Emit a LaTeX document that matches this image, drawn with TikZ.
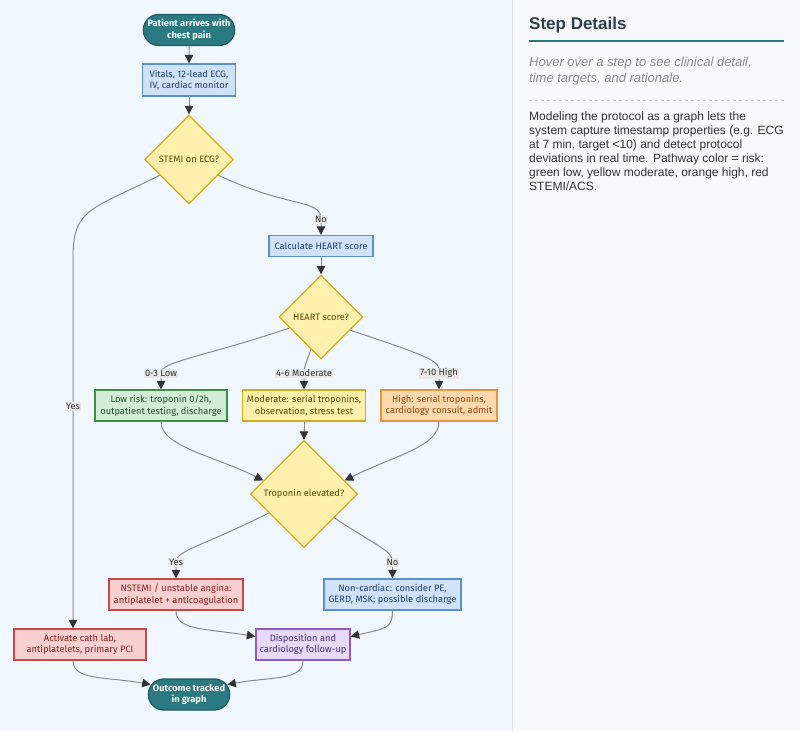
\documentclass[tikz,border=0pt]{standalone}
\usepackage{fontspec}
\setmainfont{Liberation Sans}
\newfontfamily\flowfont{Fira Sans}
\usetikzlibrary{calc,arrows.meta,shapes.geometric,shapes.misc}

\definecolor{canvasbg}{HTML}{F0F7FE}
\definecolor{panelbg}{HTML}{F8F9FA}
\definecolor{panelline}{HTML}{DDE3EA}
\definecolor{tealfill}{HTML}{2B7A82}
\definecolor{tealdraw}{HTML}{1E5C62}
\definecolor{bluefill}{HTML}{D0E2F8}
\definecolor{bluedraw}{HTML}{5B8FCF}
\definecolor{bluetext}{HTML}{1F3D6E}
\definecolor{yelfill}{HTML}{FFF1AD}
\definecolor{yeldraw}{HTML}{D4AC17}
\definecolor{yeltext}{HTML}{5A4A0A}
\definecolor{greenfill}{HTML}{D2EDD6}
\definecolor{greendraw}{HTML}{3F8E46}
\definecolor{greentext}{HTML}{1F4F25}
\definecolor{orangefill}{HTML}{FFD8AE}
\definecolor{orangedraw}{HTML}{E8963C}
\definecolor{orangetext}{HTML}{8A4A12}
\definecolor{redfill}{HTML}{F9D0D0}
\definecolor{reddraw}{HTML}{C8474A}
\definecolor{redtext}{HTML}{8B1E22}
\definecolor{purplefill}{HTML}{E6DAF6}
\definecolor{purpledraw}{HTML}{8A5BC8}
\definecolor{purpletext}{HTML}{4A2A78}
\definecolor{edgegray}{HTML}{8A8A8A}
\definecolor{tipgray}{HTML}{333333}
\definecolor{lblfill}{HTML}{E8E8E8}
\definecolor{titletext}{HTML}{2C3E50}
\definecolor{hinttext}{HTML}{8C8C8C}
\definecolor{bodytext}{HTML}{333333}

\tikzset{
  box/.style={rectangle,line width=1.3pt,inner sep=2pt,align=center,minimum height=31},
  bluebox/.style={box,fill=bluefill,draw=bluedraw,text=bluetext},
  greenbox/.style={box,fill=greenfill,draw=greendraw,text=greentext},
  yelbox/.style={box,fill=yelfill,draw=yeldraw,text=yeltext},
  orangebox/.style={box,fill=orangefill,draw=orangedraw,text=orangetext},
  redbox/.style={box,fill=redfill,draw=reddraw,text=redtext},
  purplebox/.style={box,fill=purplefill,draw=purpledraw,text=purpletext},
  terminal/.style={rounded rectangle,fill=tealfill,draw=tealdraw,line width=1.3pt,
    text=white,font=\flowfont\bfseries\fontsize{9.3}{11.5}\selectfont,align=center,minimum height=31},
  decision/.style={diamond,aspect=1,inner sep=0pt,fill=yelfill,draw=yeldraw,
    line width=1.3pt,text=yeltext,align=center},
  flow/.style={draw=edgegray,line width=1pt,-{Triangle[length=8.5pt,width=8.5pt,color=tipgray]}},
  lbl/.style={fill=lblfill,text=tipgray,inner sep=1pt}
}

\begin{document}
\begin{tikzpicture}[x=1pt,y=-1pt,font=\flowfont\fontsize{9.3}{11.5}\selectfont]

\useasboundingbox (0,0) rectangle (800,731);
\fill[canvasbg] (0,0) rectangle (512,731);
\fill[panelbg] (512,0) rectangle (800,731);
\draw[panelline,line width=1pt] (512,0) -- (512,731);

% flowchart
\node[terminal,minimum width=98] (start) at (189,30) {Patient arrives with\\chest pain};
\node[bluebox,minimum width=93,minimum height=32] (vitals) at (189,80) {Vitals, 12-lead ECG,\\IV, cardiac monitor};
\node[decision,minimum size=89] (stemi) at (189,159.5) {STEMI on ECG?};
\node[bluebox,minimum width=104,minimum height=21] (heartcalc) at (321,246) {Calculate HEART score};
\node[decision,minimum size=84] (heart) at (321,317) {HEART score?};
\node[greenbox,minimum width=132] (low) at (161,405.5) {Low risk: troponin 0/2h,\\outpatient testing, discharge};
\node[yelbox,minimum width=123] (moderate) at (304,405.5) {Moderate: serial troponins,\\observation, stress test};
\node[orangebox,minimum width=116] (high) at (439,405.5) {High: serial troponins,\\cardiology consult, admit};
\node[decision,minimum size=107] (tropo) at (304,494) {Troponin elevated?};
\node[redbox,minimum width=134] (nstemi) at (176,594.5) {NSTEMI / unstable angina:\\antiplatelet + anticoagulation};
\node[bluebox,minimum width=137] (noncard) at (392.5,594.5) {Non-cardiac: consider PE,\\GERD, MSK; possible discharge};
\node[redbox,minimum width=132] (cath) at (80,644.5) {Activate cath lab,\\antiplatelets, primary PCI};
\node[purplebox,minimum width=94] (disp) at (303,644.5) {Disposition and\\cardiology follow-up};
\node[terminal,minimum width=88] (outcome) at (189,694.5) {Outcome tracked\\in graph};

\draw[flow] (start) -- (vitals);
\draw[flow] (vitals) -- (stemi);
\draw[flow] ($(stemi.west)!0.35!(stemi.south)$) .. controls +(-70,35) and +(0,-50) .. ($(cath.north)+(-7,-370)$)
  -- node[lbl,pos=0.4] {Yes} ($(cath.north)+(-7,0)$);
\draw[flow] ($(stemi.east)!0.35!(stemi.south)$) .. controls +(70,33) and +(0,-20) .. ($(heartcalc.north)+(0,-16)$)
  node[lbl] {No} -- (heartcalc.north);
\draw[flow] (heartcalc) -- (heart);
\draw[flow] ($(heart.west)!0.26!(heart.south)$) .. controls +(-90,30) and +(0,-12) .. ($(low.north)+(0,-16)$)
  node[lbl] {0-3 Low} -- (low.north);
\draw[flow] ($(heart.west)!0.76!(heart.south)$) .. controls +(-3,10) and +(0,-8) .. ($(moderate.north)+(0,-16)$)
  node[lbl] {4-6 Moderate} -- (moderate.north);
\draw[flow] ($(heart.east)!0.31!(heart.south)$) .. controls +(90,30) and +(0,-12) .. ($(high.north)+(0,-16)$)
  node[lbl] {7-10 High} -- (high.north);
\draw[flow] (low.south) .. controls +(0,25) and +(-50,-25) .. ($(tropo.west)!0.25!(tropo.north)$);
\draw[flow] (moderate) -- (tropo);
\draw[flow] (high.south) .. controls +(0,25) and +(50,-25) .. ($(tropo.east)!0.25!(tropo.north)$);
\draw[flow] ($(tropo.west)!0.35!(tropo.south)$) .. controls +(-70,35) and +(0,-12) .. ($(nstemi.north)+(0,-16)$)
  node[lbl] {Yes} -- (nstemi.north);
\draw[flow] ($(tropo.east)!0.44!(tropo.south)$) .. controls +(45,30) and +(0,-12) .. ($(noncard.north)+(0,-16)$)
  node[lbl] {No} -- (noncard.north);
\draw[flow] (nstemi.south) .. controls +(0,20) and +(-50,-8) .. ($(disp.north west)!0.25!(disp.south west)$);
\draw[flow] (noncard.south) .. controls +(0,18) and +(35,-8) .. ($(disp.north east)!0.25!(disp.south east)$);
\draw[flow] ($(cath.south)+(-7,0)$) .. controls +(0,20) and +(-45,-8) .. ($(outcome.west)+(3,-10)$);
\draw[flow] (disp.south) .. controls +(0,20) and +(45,-8) .. ($(outcome.east)+(-3,-10)$);

% side panel
\node[anchor=base west,inner sep=0pt,text=titletext,font=\normalfont\bfseries\fontsize{17}{20}\selectfont] (title) at (529,29) {Step Details};
\draw[tealfill,line width=2pt] (529,41) -- (784,41);
\node[anchor=north west,align=left,inner sep=0pt,text=hinttext,font=\normalfont\itshape\fontsize{13}{15.4}\selectfont] (hint) at (529,57)
  {Hover over a step to see clinical detail,\\time targets, and rationale.};
\draw[hinttext!45,dashed] (529,100) -- (784,100);
\node[anchor=north west,align=left,inner sep=0pt,text=bodytext,font=\normalfont\fontsize{12}{14}\selectfont] (body) at (529,111.5)
  {Modeling the protocol as a graph lets the\\system capture timestamp properties (e.g. ECG\\at 7 min, target <10) and detect protocol\\deviations in real time. Pathway color = risk:\\green low, yellow moderate, orange high, red\\STEMI/ACS.};

\end{tikzpicture}
\end{document}
